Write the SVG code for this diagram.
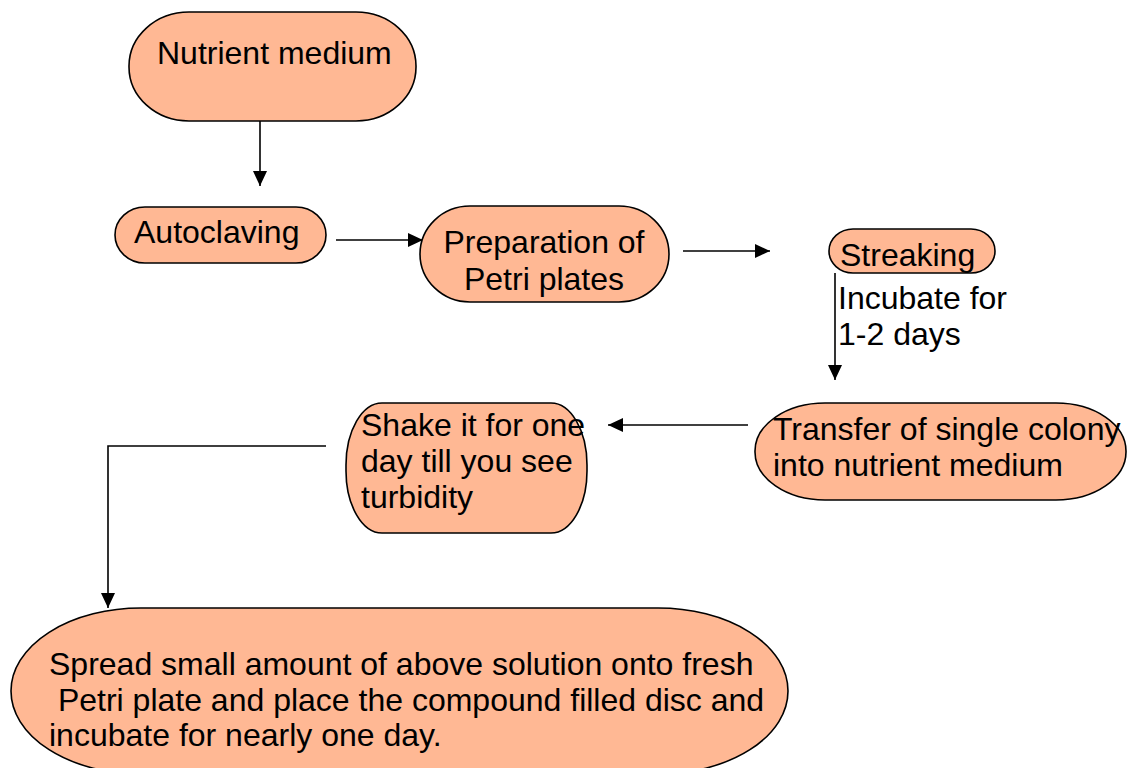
<svg xmlns="http://www.w3.org/2000/svg" width="1128" height="768" viewBox="0 0 1128 768">
<style>
.n{fill:#FFB894;stroke:#000;stroke-width:1.6}
.t{font-family:"Liberation Sans",Arial,sans-serif;font-size:32px;fill:#000}
.c{fill:none;stroke:#000;stroke-width:1.6}
</style>
<defs>
<marker id="ah" viewBox="0 0 15 14" refX="15" refY="7" markerWidth="15" markerHeight="14" markerUnits="userSpaceOnUse" orient="auto">
<path d="M0,0 L15,7 L0,14 z" fill="#000"/>
</marker>
</defs>
<rect width="1128" height="768" fill="#fff"/>
<g id="connectors">
<path class="c" d="M260 121 V186" marker-end="url(#ah)"/>
<path class="c" d="M336 240 H423" marker-end="url(#ah)"/>
<path class="c" d="M683 251 H770" marker-end="url(#ah)"/>
<path class="c" d="M835 273 V380" marker-end="url(#ah)"/>
<path class="c" d="M748 425 H608" marker-end="url(#ah)"/>
<path class="c" d="M326 446 H108 V608" marker-end="url(#ah)"/>
</g>
<g id="nutrient-medium">
<rect class="n" x="129" y="12" width="287" height="109" rx="60" ry="54"/>
<text class="t" x="157" y="64">Nutrient medium</text>
</g>
<g id="autoclaving">
<rect class="n" x="115" y="207" width="211" height="56" rx="30" ry="28"/>
<text class="t" x="134" y="243">Autoclaving</text>
</g>
<g id="preparation">
<rect class="n" x="420" y="206" width="249" height="96" rx="50" ry="48"/>
<text class="t" x="544" y="253" text-anchor="middle">Preparation of</text>
<text class="t" x="544" y="290" text-anchor="middle">Petri plates</text>
</g>
<g id="streaking">
<rect class="n" x="829" y="229" width="166" height="44" rx="24" ry="22"/>
<text class="t" x="840" y="266">Streaking</text>
</g>
<g id="incubate-label">
<text class="t" x="838" y="309">Incubate for</text>
<text class="t" x="838" y="345">1-2 days</text>
</g>
<g id="transfer">
<rect class="n" x="755" y="403" width="371" height="97" rx="70" ry="48"/>
<text class="t" x="773" y="440">Transfer of single colony</text>
<text class="t" x="773" y="476">into nutrient medium</text>
</g>
<g id="shake">
<rect class="n" x="346" y="403" width="241" height="130" rx="36" ry="62"/>
<text class="t" x="361" y="436">Shake it for one</text>
<text class="t" x="361" y="472">day till you see</text>
<text class="t" x="361" y="508">turbidity</text>
</g>
<g id="spread">
<rect class="n" x="11" y="608" width="777" height="166" rx="130" ry="83"/>
<text class="t" x="49" y="675">Spread small amount of above solution onto fresh</text>
<text class="t" x="49" y="711" xml:space="preserve"> Petri plate and place the compound filled disc and</text>
<text class="t" x="49" y="746">incubate for nearly one day.</text>
</g>
</svg>
